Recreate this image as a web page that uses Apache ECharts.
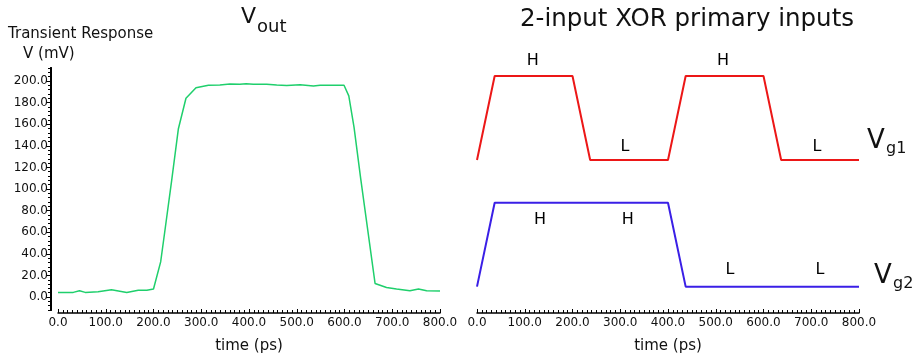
<!DOCTYPE html>
<html>
<head>
<meta charset="utf-8">
<script src="https://cdn.jsdelivr.net/npm/echarts@6/dist/echarts.min.js"></script>
<style>
  html, body { margin: 0; padding: 0; background: #fff; }
  #chart { width: 917px; height: 357px; }
</style>
</head>
<body>
<div id="chart"></div>
<script>
// Output transient response of the XOR gate (time in ps, voltage in mV)
const vOutTime = [0, 32, 45, 57, 84, 112, 144, 168, 186, 200, 215, 224, 238, 252, 268, 289, 315, 339, 360, 381, 394, 409, 437, 458, 479, 507, 535, 549, 599, 609, 620, 634, 664, 688, 709, 737, 755, 772, 800];
const vOutMv = [4.3, 4.3, 5.8, 4.3, 4.9, 6.7, 4.3, 6.2, 6.2, 7.4, 32.5, 61.8, 107.8, 155.5, 184, 193.8, 196, 196.3, 197.2, 197, 197.5, 197, 197, 196.3, 195.7, 196.6, 195.4, 196, 196, 186.2, 157, 109.4, 12.6, 8.9, 7.4, 5.8, 7.4, 5.8, 5.5];

// Primary input waveforms
const vg1Time = [0, 37, 200, 237, 400, 437, 600, 637, 800];
const vg1Level = [126.8, 204.6, 204.6, 126.8, 126.8, 204.6, 204.6, 126.8, 126.8];
const vg2Time = [0, 37, 400, 437, 800];
const vg2Level = [9.6, 87.3, 87.3, 9.6, 9.6];

// Logic-level annotations
const vg1Marks = ['H', 'L', 'H', 'L'];
const vg1MarkTime = [117, 310, 515, 712];
const vg1MarkLevel = [218.7, 138.6, 218.7, 138.6];
const vg2Marks = ['H', 'H', 'L', 'L'];
const vg2MarkTime = [132, 316, 530, 718];
const vg2MarkLevel = [71.3, 71.3, 25, 25];

// Axis ticks
const yMajorTicks = [0, 20, 40, 60, 80, 100, 120, 140, 160, 180, 200];
const yMinorTicks = [];
for (let v = -12; v <= 212; v += 4) if (v % 20 !== 0) yMinorTicks.push(v);

const FONT = 'DejaVu Sans';
const INK = '#111';

const zip = (xs, ys) => xs.map((x, i) => [x, ys[i]]);
const marks = (xs, ys, txt) => xs.map((x, i) => ({ value: [x, ys[i]], name: txt[i] }));

const chart = echarts.init(document.getElementById('chart'), null, { renderer: 'canvas' });

function timeAxis(gridIndex) {
  return {
    type: 'value', gridIndex, position: 'bottom', min: 0, max: 800, interval: 100,
    name: 'time (ps)', nameLocation: 'middle', nameGap: 26, nameMoveOverlap: false,
    nameTextStyle: { fontFamily: FONT, fontSize: 15, color: INK },
    offset: 3,
    axisLine: { show: true, onZero: false, lineStyle: { color: '#000', width: 1.5 } },
    axisTick: { show: true, inside: true, length: 4, lineStyle: { color: '#000', width: 1 } },
    minorTick: { show: true, splitNumber: 10, length: 3, lineStyle: { color: '#000', width: 1 } },
    axisLabel: { margin: 4, fontFamily: FONT, fontSize: 12, color: INK, formatter: v => v.toFixed(1) },
    splitLine: { show: false }, minorSplitLine: { show: false }
  };
}

const option = {
  animation: false,
  backgroundColor: '#fff',
  grid: [
    { left: 58, right: 477, top: 68, bottom: 47, containLabel: false, outerBoundsMode: 'none' },
    { left: 477, right: 58, top: 68, bottom: 47, containLabel: false, outerBoundsMode: 'none' }
  ],
  xAxis: [timeAxis(0), timeAxis(1)],
  yAxis: [
    {
      type: 'value', gridIndex: 0, position: 'left', min: -12, max: 212, offset: 7,
      axisLine: { show: true, onZero: false, lineStyle: { color: '#000', width: 2 } },
      axisTick: { show: true, length: 5, customValues: yMajorTicks, lineStyle: { color: '#000', width: 1 } },
      axisLabel: { margin: 3, fontFamily: FONT, fontSize: 12, color: INK, customValues: yMajorTicks, formatter: v => v.toFixed(1) },
      splitLine: { show: false }
    },
    {
      type: 'value', gridIndex: 0, position: 'left', min: -12, max: 212, offset: 7,
      axisLine: { show: true, onZero: false, lineStyle: { color: '#000', width: 2 } },
      axisTick: { show: true, length: 3, customValues: yMinorTicks, lineStyle: { color: '#000', width: 1 } },
      axisLabel: { show: false },
      splitLine: { show: false }
    },
    {
      type: 'value', gridIndex: 1, min: -12, max: 212, show: false
    }
  ],
  series: [
    {
      name: 'Vout', type: 'line', xAxisIndex: 0, yAxisIndex: 0,
      data: zip(vOutTime, vOutMv), showSymbol: false,
      lineStyle: { color: '#1fcf6c', width: 1.5 }
    },
    {
      name: 'Vg1', type: 'line', xAxisIndex: 1, yAxisIndex: 2,
      data: zip(vg1Time, vg1Level), showSymbol: false,
      lineStyle: { color: '#ec1717', width: 2 }
    },
    {
      name: 'Vg2', type: 'line', xAxisIndex: 1, yAxisIndex: 2,
      data: zip(vg2Time, vg2Level), showSymbol: false,
      lineStyle: { color: '#3a1fe6', width: 2 }
    },
    {
      type: 'scatter', xAxisIndex: 1, yAxisIndex: 2, symbolSize: 0, clip: false,
      data: marks(vg1MarkTime, vg1MarkLevel, vg1Marks).concat(marks(vg2MarkTime, vg2MarkLevel, vg2Marks)),
      label: {
        show: true, position: 'inside', formatter: p => p.name,
        fontFamily: FONT, fontSize: 16, color: '#000', textBorderWidth: 0, opacity: 1
      },
      itemStyle: { opacity: 1 },
      silent: true
    }
  ],
  graphic: [
    { type: 'text', left: 8, top: 27, style: { text: 'Transient Response', font: '15px "DejaVu Sans"', fill: INK } },
    { type: 'text', left: 23, top: 47, style: { text: 'V (mV)', font: '15px "DejaVu Sans"', fill: INK } },
    { type: 'text', x: 241, y: 17, style: { text: 'V', font: '22px "DejaVu Sans"', fill: INK, verticalAlign: 'middle' } },
    { type: 'text', x: 257, y: 27, style: { text: 'out', font: '18px "DejaVu Sans"', fill: INK, verticalAlign: 'middle' } },
    { type: 'text', x: 687, y: 20, style: { text: '2-input XOR primary inputs', font: '24.5px "DejaVu Sans"', fill: INK, align: 'center', verticalAlign: 'middle' } },
    { type: 'text', x: 867, y: 141, style: { text: 'V', font: '26px "DejaVu Sans"', fill: INK, verticalAlign: 'middle' } },
    { type: 'text', x: 886, y: 149, style: { text: 'g1', font: '16px "DejaVu Sans"', fill: INK, verticalAlign: 'middle' } },
    { type: 'text', x: 874, y: 276, style: { text: 'V', font: '26px "DejaVu Sans"', fill: INK, verticalAlign: 'middle' } },
    { type: 'text', x: 893, y: 284, style: { text: 'g2', font: '16px "DejaVu Sans"', fill: INK, verticalAlign: 'middle' } }
  ]
};

chart.setOption(option);
</script>
</body>
</html>
